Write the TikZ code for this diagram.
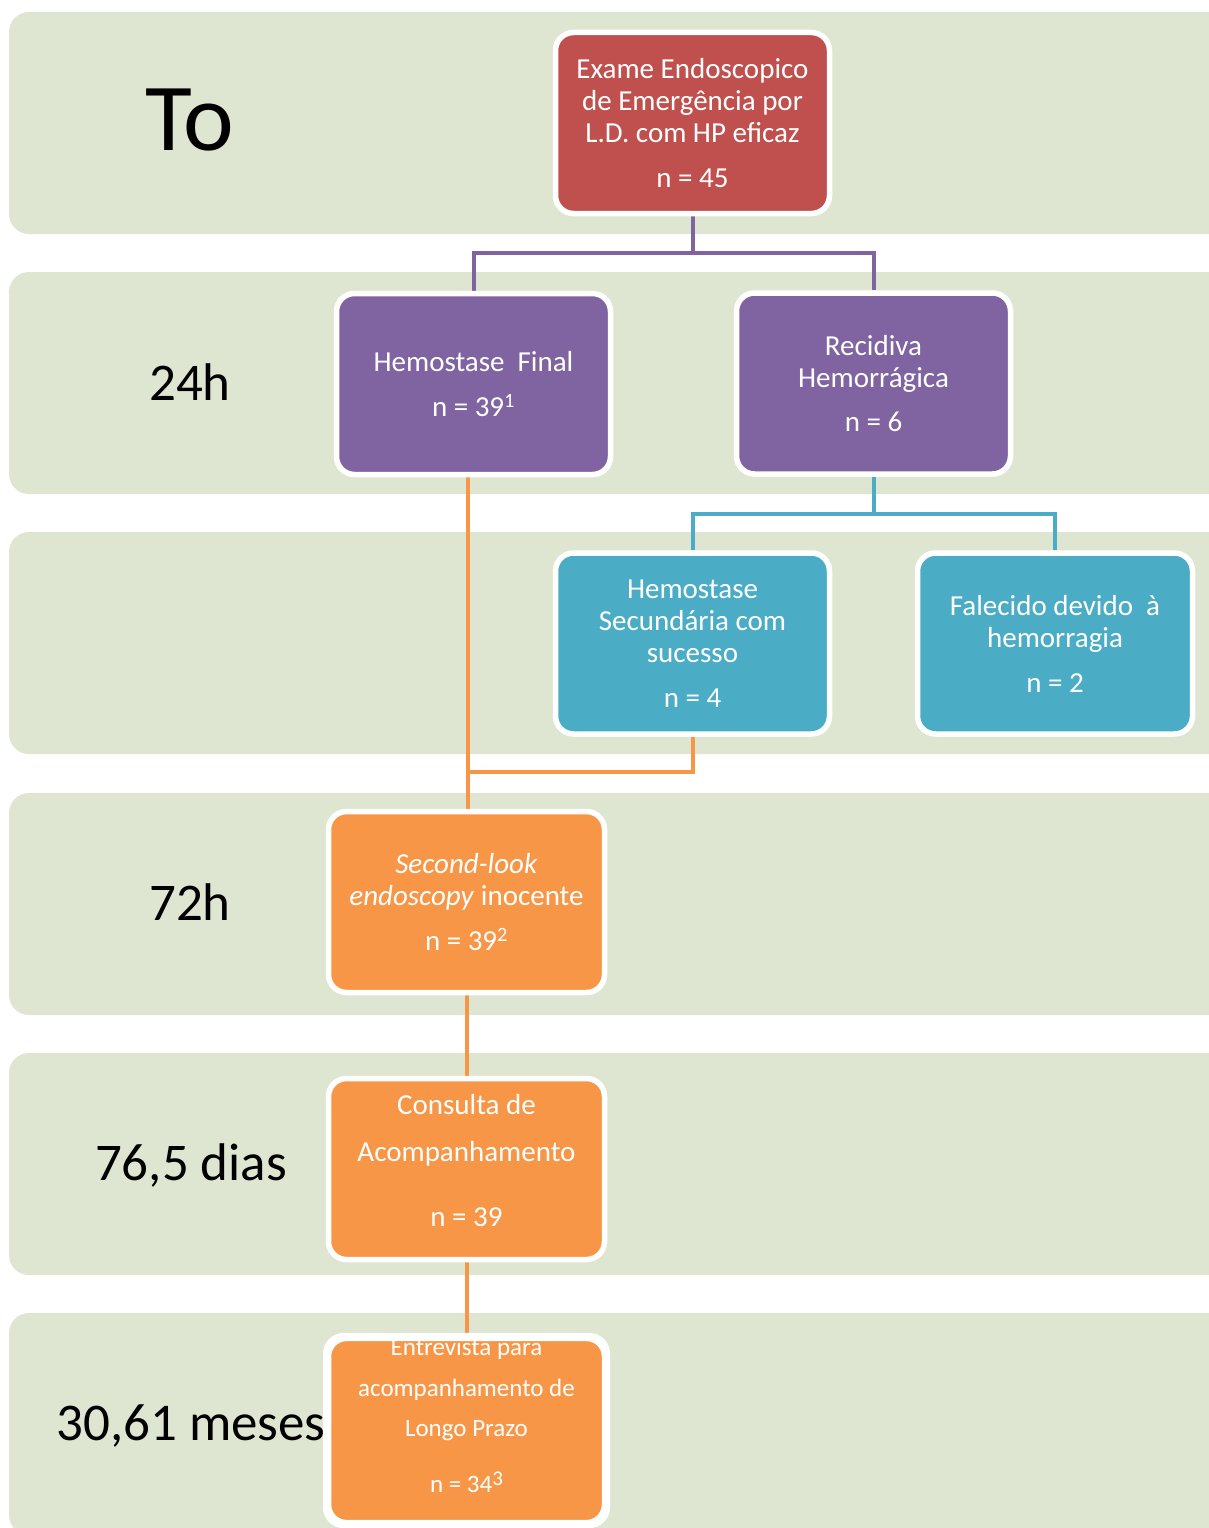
\documentclass[tikz,border=0pt]{standalone}
\usepackage{fontspec}
\setmainfont{Carlito}
\usetikzlibrary{calc}
\definecolor{bandc}{RGB}{222,230,210}
\definecolor{redc}{HTML}{C0504D}
\definecolor{purc}{HTML}{8064A2}
\definecolor{tealc}{HTML}{4BACC6}
\definecolor{orac}{HTML}{F79646}
\pgfdeclarelayer{bg}
\pgfdeclarelayer{lines}
\pgfsetlayers{bg,lines,main}
\tikzset{
  band/.style={fill=bandc, rounded corners=20pt},
  lab/.style={anchor=base, text=black, font=\fontsize{53}{60}\selectfont},
  box/.style={rounded corners=18pt, draw=white, line width=5.5pt, minimum width=274pt, minimum height=181pt, inner sep=0pt, align=center, text=white, font=\fontsize{29}{32}\selectfont},
  conn/.style={line width=4pt},
}
\begin{document}
\begin{tikzpicture}[x=1pt,y=-1pt]
\useasboundingbox (0,0) rectangle (1208,1528);
\begin{pgfonlayer}{bg}
\foreach \t in {12,272,532,793,1053,1313}
  \fill[band] (9,\t) rectangle (1240,\t+222);
\end{pgfonlayer}

% time labels
\node[lab, font=\fontsize{96}{100}\selectfont] (l0) at (190,150) {To};
\node[lab] (l1) at (190,400) {24h};
\node[lab] (l2) at (190,920) {72h};
\node[lab] (l3) at (191,1180) {76,5 dias};
\node[lab] (l4) at (191,1440) {30,61 meses};

% boxes
\node[box, fill=redc] (red) at (692.5,123) {Exame Endoscopico\\de Emergência por\\L.D. com HP eficaz\\[13pt]n = 45};
\node[box, fill=purc] (p1) at (473.5,384) {Hemostase\ \ Final\\[13pt]n = 39\textsuperscript{1}};
\node[box, fill=purc] (p2) at (873.5,383.5) {Recidiva\\Hemorrágica\\[12pt]n = 6};
\node[box, fill=tealc] (t1) at (692.5,643.5) {Hemostase\\Secundária com\\sucesso\\[13pt]n = 4};
\node[box, fill=tealc, minimum width=275pt] (t2) at (1055,643.5) {Falecido devido\ \ à\\hemorragia\\[13pt]n = 2};
\node[box, fill=orac, minimum width=276pt] (o1) at (466.5,902) {\textit{Second-look}\\\textit{endoscopy} inocente\\[13pt]n = 39\textsuperscript{2}};
\node[box, fill=orac, minimum width=276pt] (o2) at (466.5,1169) {Consulta de\\[15pt]Acompanhamento\\[33pt]n = 39\\[-14pt]\mbox{}};
\node[box, fill=orac, minimum width=276pt, font=\fontsize{25}{40.5}\selectfont] (o3) at (466.5,1430.5) {Entrevista para\\acompanhamento de\\Longo Prazo\\[15pt]n = 34\raisebox{7pt}{\fontsize{21}{21}\selectfont 3}\\[-10pt]\mbox{}};
\draw[white, line width=5.5pt, rounded corners=18pt] (o3.north west) rectangle (o3.south east);

% connectors
\coordinate (j1) at (692.5,253);
\coordinate (j2) at (873.5,514);
\coordinate (j3) at (467.5,772);
\begin{pgfonlayer}{lines}
\draw[conn, purc] (red.south) -- (j1);
\draw[conn, purc] (j1) -| (p1.north);
\draw[conn, purc] (j1) -| (p2.north);
\draw[conn, tealc] (p2.south) -- (j2);
\draw[conn, tealc] (j2) -| (t1.north);
\draw[conn, tealc] (j2) -| (t2.north);
\draw[conn, orac] (j3 |- p1.south) -- (j3 |- o1.north);
\draw[conn, orac] (t1.south) |- (j3);
\draw[conn, orac] (o1.south) -- (o2.north);
\draw[conn, orac] (o2.south) -- (o3.north);
\end{pgfonlayer}
\end{tikzpicture}
\end{document}
